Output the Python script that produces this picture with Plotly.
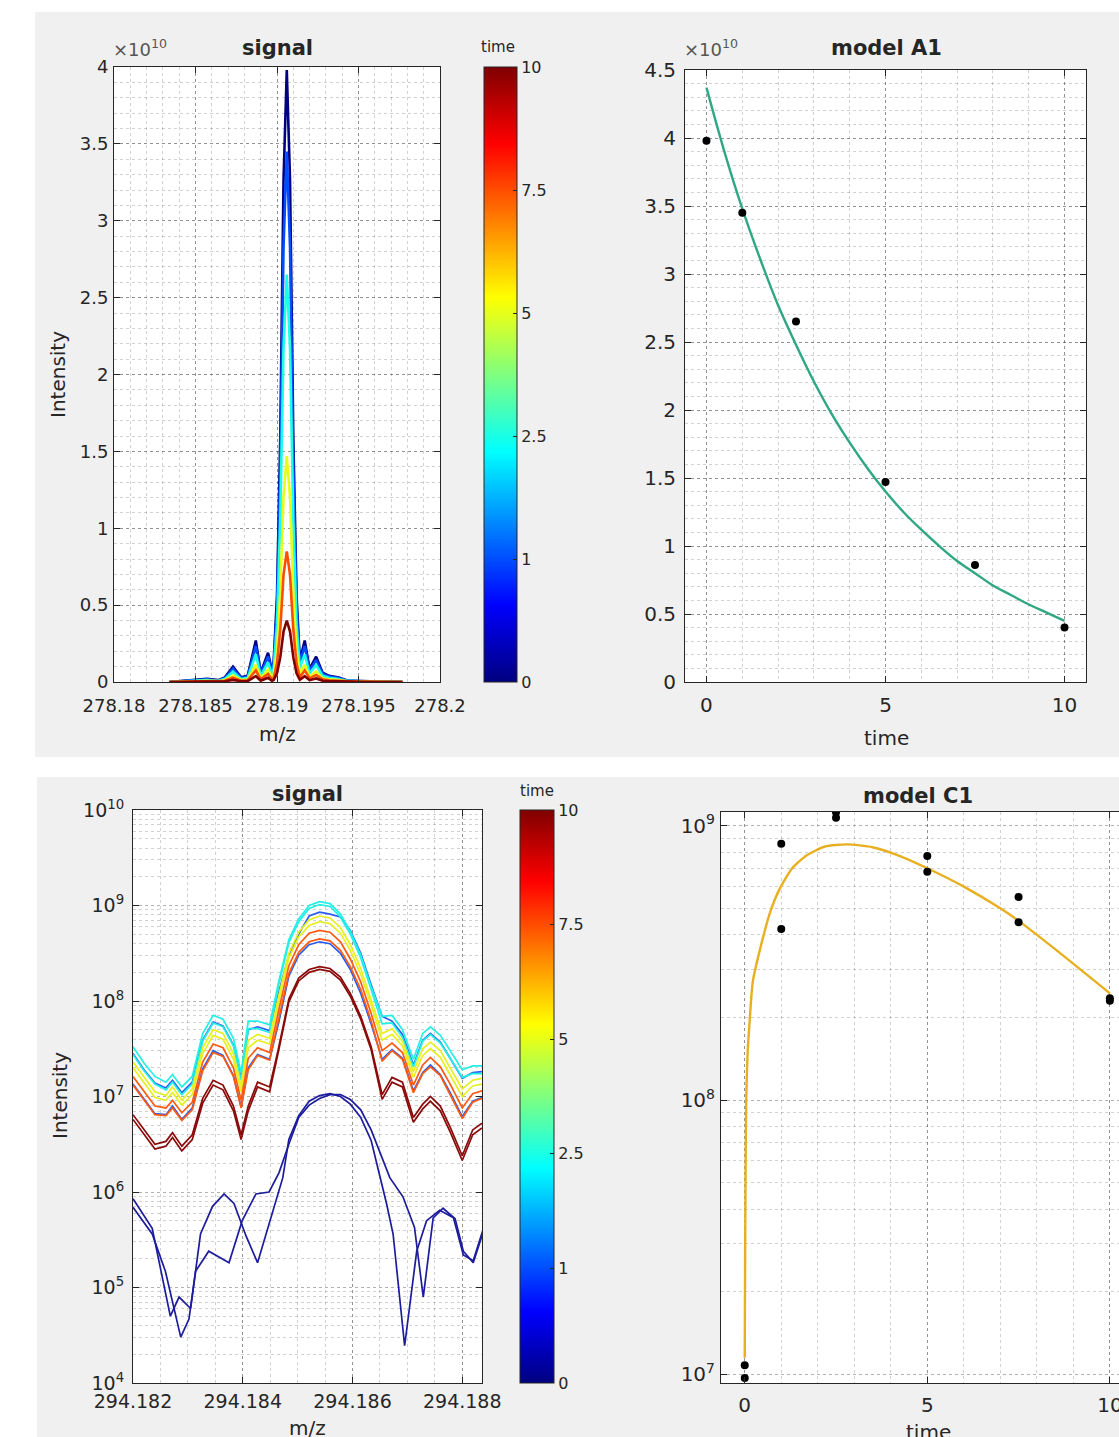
import plotly.graph_objects as go

W, H = 1119, 1437
FONT = "DejaVu Sans"
TXT = "#262626"
GRID = "rgba(0,0,0,0.30)"
GRID2 = "rgba(0,0,0,0.18)"


def fx(px):
    return px / W


def fy(py):
    return 1 - py / H


# ---------------------------------------------------------------- data
time_ticks = [0, 1, 2, 3, 4, 5]                     # colour index of each time point
time_labels = ["0", "1", "2.5", "5", "7.5", "10"]

# --- top-left: signal at m/z 278.19 (intensity in units of 1e10)
mz_top = [278.1834, 278.1848, 278.1857, 278.1864, 278.1868, 278.1873, 278.1878, 278.1882,
          278.1887, 278.1890, 278.18945, 278.1897, 278.1898, 278.1900, 278.1902, 278.1904,
          278.1906, 278.1908, 278.1910, 278.1912, 278.1914, 278.1917, 278.1920, 278.1924,
          278.1928, 278.1932, 278.1938, 278.1943, 278.1951, 278.1962, 278.1977]
sig_top_t0 = [0.000, 0.010, 0.020, 0.012, 0.030, 0.100, 0.030, 0.040, 0.270, 0.060, 0.190, 0.070,
              0.140, 0.560, 1.590, 3.260, 3.980, 3.260, 1.590, 0.560, 0.140, 0.270, 0.085, 0.165,
              0.060, 0.040, 0.030, 0.010, 0.005, 0.003, 0.000]
sig_top_t1 = [0.000, 0.009, 0.017, 0.010, 0.026, 0.087, 0.026, 0.035, 0.234, 0.052, 0.165, 0.061,
              0.121, 0.486, 1.379, 2.826, 3.450, 2.826, 1.379, 0.486, 0.121, 0.234, 0.074, 0.143,
              0.052, 0.035, 0.026, 0.009, 0.004, 0.003, 0.000]
sig_top_t2_5 = [0.000, 0.007, 0.013, 0.008, 0.020, 0.067, 0.020, 0.027, 0.180, 0.040, 0.127, 0.047,
                0.093, 0.373, 1.059, 2.171, 2.650, 2.171, 1.059, 0.373, 0.093, 0.180, 0.057, 0.110,
                0.040, 0.027, 0.020, 0.007, 0.003, 0.002, 0.000]
sig_top_t5 = [0.000, 0.004, 0.008, 0.005, 0.013, 0.042, 0.013, 0.017, 0.113, 0.025, 0.080, 0.026,
              0.052, 0.207, 0.587, 1.203, 1.470, 1.203, 0.587, 0.207, 0.052, 0.113, 0.036, 0.069,
              0.025, 0.017, 0.013, 0.004, 0.002, 0.001, 0.000]
sig_top_t7_5 = [0.000, 0.003, 0.006, 0.003, 0.008, 0.028, 0.008, 0.011, 0.076, 0.017, 0.053, 0.015,
                0.030, 0.120, 0.340, 0.697, 0.850, 0.697, 0.340, 0.120, 0.030, 0.076, 0.024, 0.046,
                0.017, 0.011, 0.008, 0.003, 0.001, 0.001, 0.000]
sig_top_t10 = [0.000, 0.001, 0.003, 0.002, 0.004, 0.014, 0.004, 0.006, 0.038, 0.008, 0.027, 0.007,
               0.014, 0.056, 0.160, 0.328, 0.400, 0.328, 0.160, 0.056, 0.014, 0.038, 0.012, 0.023,
               0.008, 0.006, 0.004, 0.001, 0.001, 0.000, 0.000]

# --- top-right: model A1 (units of 1e10)
a1_time = [0, 1, 2.5, 5, 7.5, 10]
a1_vals = [3.98, 3.45, 2.65, 1.47, 0.86, 0.40]
a1_fit_t = [0, 0.5, 1, 1.5, 2, 2.5, 3, 3.5, 4, 4.5, 5, 5.5, 6, 6.5, 7, 7.5, 8, 8.5, 9, 9.5, 10]
a1_fit_v = [4.37, 3.90, 3.48, 3.11, 2.77, 2.48, 2.21, 1.97, 1.76, 1.57, 1.40, 1.25, 1.12, 1.00,
            0.89, 0.80, 0.71, 0.64, 0.57, 0.51, 0.45]

# --- bottom-left: signal at m/z 294.185 (log10 of intensity)
mz_bot = [294.18200, 294.18220, 294.18240, 294.18260, 294.18272, 294.18289, 294.18308, 294.18327,
          294.18346, 294.18364, 294.18383, 294.18397, 294.18410, 294.18427, 294.18449, 294.18465,
          294.18484, 294.18502, 294.18521, 294.18540, 294.18559, 294.18578, 294.18596, 294.18615,
          294.18634, 294.18654, 294.18672, 294.18691, 294.18711, 294.18728, 294.18742, 294.18760,
          294.18778, 294.18800, 294.18819, 294.18836]
mz_bot_t0a = [294.18200, 294.18235, 294.18268, 294.18284, 294.18305, 294.18323, 294.18345, 294.18366,
              294.18384, 294.18406, 294.18427, 294.18454, 294.18473, 294.18484, 294.18502, 294.18521,
              294.18540, 294.18559, 294.18578, 294.18596, 294.18615, 294.18634, 294.18662, 294.18674,
              294.18695, 294.18717, 294.18735, 294.18759, 294.18784, 294.18802, 294.18820, 294.18837]
log_bot_t0a = [5.93, 5.62, 4.70, 4.90, 4.78, 5.56, 5.85, 5.98, 5.88, 5.54, 5.26, 5.78, 6.15, 6.55,
               6.80, 6.95, 7.01, 7.03, 7.00, 6.92, 6.78, 6.54, 5.88, 5.56, 4.39, 5.38, 5.70, 5.81,
               5.73, 5.34, 5.28, 5.59]
mz_bot_t0b = [294.18200, 294.18235, 294.18259, 294.18287, 294.18302, 294.18314, 294.18338, 294.18375,
              294.18399, 294.18424, 294.18448, 294.18466, 294.18484, 294.18502, 294.18521, 294.18540,
              294.18559, 294.18578, 294.18596, 294.18615, 294.18634, 294.18668, 294.18692, 294.18713,
              294.18729, 294.18747, 294.18765, 294.18787, 294.18802, 294.18820, 294.18837]
log_bot_t0b = [5.84, 5.56, 5.17, 4.48, 4.67, 5.17, 5.38, 5.26, 5.70, 5.98, 6.00, 6.20, 6.50, 6.78,
               6.91, 6.98, 7.02, 7.02, 6.97, 6.86, 6.65, 6.15, 5.95, 5.63, 4.90, 5.73, 5.83, 5.72,
               5.38, 5.26, 5.56]
log_bot_t1a = [7.45, 7.28, 7.14, 7.09, 7.17, 7.04, 7.15, 7.59, 7.78, 7.74, 7.54, 7.19, 7.70, 7.73,
               7.69, 8.08, 8.48, 8.70, 8.89, 8.93, 8.91, 8.88, 8.74, 8.50, 8.17, 7.84, 7.79, 7.65,
               7.33, 7.59, 7.66, 7.57, 7.40, 7.19, 7.25, 7.26]
log_bot_t1b = [7.13, 6.97, 6.82, 6.81, 6.90, 6.76, 6.88, 7.29, 7.48, 7.43, 7.22, 6.89, 7.30, 7.44,
               7.39, 7.76, 8.26, 8.48, 8.59, 8.62, 8.60, 8.50, 8.33, 8.08, 7.76, 7.39, 7.49, 7.40,
               7.06, 7.25, 7.33, 7.23, 7.04, 6.79, 6.95, 6.99]
log_bot_t2_5a = [7.52, 7.35, 7.21, 7.15, 7.23, 7.10, 7.21, 7.66, 7.85, 7.81, 7.61, 7.25, 7.79, 7.79,
                 7.75, 8.19, 8.64, 8.86, 9.00, 9.04, 9.02, 8.91, 8.73, 8.48, 8.15, 7.84, 7.85, 7.70,
                 7.39, 7.66, 7.73, 7.64, 7.48, 7.28, 7.32, 7.32]
log_bot_t2_5b = [7.44, 7.27, 7.13, 7.07, 7.15, 7.02, 7.13, 7.58, 7.77, 7.73, 7.53, 7.17, 7.71, 7.71,
                 7.67, 8.16, 8.61, 8.83, 8.97, 9.01, 8.99, 8.88, 8.70, 8.45, 8.12, 7.76, 7.77, 7.62,
                 7.31, 7.58, 7.65, 7.56, 7.40, 7.20, 7.24, 7.24]
log_bot_t5a = [7.36, 7.20, 7.05, 7.01, 7.10, 6.96, 7.08, 7.51, 7.70, 7.66, 7.45, 7.11, 7.59, 7.65,
               7.61, 8.04, 8.50, 8.72, 8.85, 8.89, 8.87, 8.77, 8.59, 8.34, 8.01, 7.66, 7.71, 7.58,
               7.26, 7.50, 7.57, 7.48, 7.30, 7.08, 7.17, 7.19]
log_bot_t5b = [7.30, 7.14, 6.99, 6.96, 7.04, 6.91, 7.02, 7.45, 7.64, 7.60, 7.39, 7.05, 7.51, 7.59,
               7.55, 7.98, 8.45, 8.67, 8.79, 8.83, 8.81, 8.71, 8.53, 8.28, 7.96, 7.59, 7.65, 7.53,
               7.20, 7.43, 7.50, 7.41, 7.23, 7.00, 7.11, 7.13]
log_bot_t7_5a = [7.21, 7.05, 6.90, 6.88, 6.96, 6.83, 6.94, 7.36, 7.55, 7.51, 7.30, 6.96, 7.40, 7.51,
                 7.46, 7.89, 8.37, 8.59, 8.71, 8.74, 8.72, 8.62, 8.44, 8.20, 7.87, 7.48, 7.56, 7.46,
                 7.12, 7.33, 7.41, 7.31, 7.13, 6.88, 7.03, 7.06]
log_bot_t7_5b = [7.12, 6.96, 6.81, 6.80, 6.88, 6.75, 6.86, 7.27, 7.46, 7.42, 7.21, 6.88, 7.28, 7.43,
                 7.38, 7.80, 8.29, 8.51, 8.62, 8.65, 8.63, 8.53, 8.36, 8.12, 7.79, 7.37, 7.48, 7.39,
                 7.04, 7.24, 7.31, 7.22, 7.02, 6.77, 6.94, 6.98]
log_bot_t10a = [6.81, 6.66, 6.50, 6.53, 6.62, 6.48, 6.60, 6.98, 7.17, 7.12, 6.90, 6.60, 6.90, 7.15,
                7.10, 7.50, 8.02, 8.24, 8.33, 8.36, 8.34, 8.25, 8.08, 7.84, 7.52, 7.02, 7.20, 7.15,
                6.78, 6.92, 7.00, 6.90, 6.68, 6.38, 6.65, 6.72]
log_bot_t10b = [6.76, 6.61, 6.45, 6.48, 6.57, 6.43, 6.55, 6.93, 7.12, 7.07, 6.85, 6.55, 6.85, 7.10,
                7.05, 7.47, 7.99, 8.21, 8.30, 8.33, 8.31, 8.22, 8.05, 7.81, 7.49, 6.97, 7.15, 7.10,
                6.73, 6.87, 6.95, 6.85, 6.63, 6.33, 6.60, 6.67]

# --- bottom-right: model C1
c1_time = [0, 0, 1, 1, 2.5, 2.5, 5, 5, 7.5, 7.5, 10, 10]
c1_vals = [1.08e7, 0.97e7, 8.6e8, 4.2e8, 1.12e9, 1.07e9, 7.75e8, 6.8e8, 5.5e8, 4.45e8, 2.35e8, 2.3e8]
c1_fit_t = [0, 0.01, 0.02, 0.04, 0.08, 0.13, 0.22, 0.42, 0.71, 0.96, 1.3, 1.7, 2.2, 2.8, 3.5,
            4.2, 5.0, 6.0, 7.0, 7.5, 8.5, 10]
c1_fit_v = [1.15e7, 2.5e7, 4.5e7, 1.0e8, 1.5e8, 1.9e8, 2.7e8, 3.55e8, 4.9e8, 5.9e8, 7.0e8, 7.8e8,
            8.4e8, 8.55e8, 8.35e8, 7.8e8, 7.0e8, 6.0e8, 5.0e8, 4.5e8, 3.55e8, 2.45e8]

# ---------------------------------------------------------------- styles
jet_scale = [[0.0, "#000080"], [0.125, "#0000ff"], [0.375, "#00ffff"],
             [0.625, "#ffff00"], [0.875, "#ff0000"], [1.0, "#800000"]]
line_colors = ["#000080", "#004dff", "#1affe6", "#e6ff1a", "#ff4d00", "#800000"]
line_colors_bot = ["#1c1c9c", "#2a5cf0", "#22f0e6", "#e6f020", "#ff5a10", "#8a0a0a"]

fig = go.Figure()

# top-left signal
for vals, col in zip([sig_top_t0, sig_top_t1, sig_top_t2_5, sig_top_t5, sig_top_t7_5, sig_top_t10],
                     line_colors):
    fig.add_trace(go.Scatter(x=mz_top, y=vals, mode="lines", xaxis="x", yaxis="y",
                             line=dict(color=col, width=2.6), showlegend=False))

# bottom-left signal
bot_series = [
    (mz_bot_t0a, log_bot_t0a, 0), (mz_bot_t0b, log_bot_t0b, 0),
    (mz_bot, log_bot_t1a, 1), (mz_bot, log_bot_t1b, 1),
    (mz_bot, log_bot_t2_5a, 2), (mz_bot, log_bot_t2_5b, 2),
    (mz_bot, log_bot_t5a, 3), (mz_bot, log_bot_t5b, 3),
    (mz_bot, log_bot_t7_5a, 4), (mz_bot, log_bot_t7_5b, 4),
    (mz_bot, log_bot_t10a, 5), (mz_bot, log_bot_t10b, 5),
]
for mzs, logs, ci in bot_series:
    fig.add_trace(go.Scatter(x=mzs, y=[10 ** v for v in logs], mode="lines", xaxis="x3", yaxis="y3",
                             line=dict(color=line_colors_bot[ci], width=1.7), showlegend=False))

# model A1
fig.add_trace(go.Scatter(x=a1_fit_t, y=a1_fit_v, mode="lines", xaxis="x2", yaxis="y2",
                         line=dict(color="#2fa783", width=2.4, shape="spline"), showlegend=False))
fig.add_trace(go.Scatter(x=a1_time, y=a1_vals, mode="markers", xaxis="x2", yaxis="y2",
                         marker=dict(color="black", size=8), showlegend=False))

# model C1
fig.add_trace(go.Scatter(x=c1_fit_t, y=c1_fit_v, mode="lines", xaxis="x4", yaxis="y4",
                         line=dict(color="#e8b020", width=2.4, shape="spline", smoothing=0.6),
                         showlegend=False))
fig.add_trace(go.Scatter(x=c1_time, y=c1_vals, mode="markers", xaxis="x4", yaxis="y4",
                         marker=dict(color="black", size=8), showlegend=False))


# colour bars (hidden helper markers outside the visible ranges)
def cbar(x0, y0, y1, thick):
    return dict(x=fx(x0), xanchor="left", y=fy((y0 + y1) / 2), yanchor="middle",
                len=y1 - y0, lenmode="pixels", thickness=thick, thicknessmode="pixels",
                xpad=0, ypad=0, outlinewidth=1, outlinecolor=TXT,
                tickmode="array", tickvals=time_ticks, ticktext=time_labels,
                ticks="inside", ticklen=4, tickcolor=TXT,
                tickfont=dict(family=FONT, size=16, color=TXT))


fig.add_trace(go.Scatter(x=[278.0, 278.0], y=[-5, -5], mode="markers", xaxis="x", yaxis="y",
                         marker=dict(color=[0, 5], colorscale=jet_scale, cmin=0, cmax=5, size=2,
                                     opacity=0, showscale=True, colorbar=cbar(484, 67, 682, 33)),
                         showlegend=False, hoverinfo="skip"))
fig.add_trace(go.Scatter(x=[294.17, 294.17], y=[10, 10], mode="markers", xaxis="x3", yaxis="y3",
                         marker=dict(color=[0, 5], colorscale=jet_scale, cmin=0, cmax=5, size=2,
                                     opacity=0, showscale=True, colorbar=cbar(520, 810, 1383, 34)),
                         showlegend=False, hoverinfo="skip"))


# ---------------------------------------------------------------- axes
def base_axis(domain, size, anchor, mirror="ticks", standoff=3):
    return dict(domain=domain, anchor=anchor, ticks="inside", ticklen=6, tickwidth=1, tickcolor=TXT,
                showline=True, linecolor=TXT, linewidth=1, mirror=mirror,
                showgrid=True, gridcolor=GRID, griddash="dot", gridwidth=1, zeroline=False,
                tickfont=dict(family=FONT, size=size, color=TXT), fixedrange=True,
                automargin=False, ticklabelstandoff=standoff, ticklabeloverflow="allow")


def minor_lin(tick0, dtick):
    return dict(tickmode="linear", tick0=tick0, dtick=dtick, showgrid=True, gridcolor=GRID2,
                griddash="dot", gridwidth=1, ticks="")


def minor_log(lo, hi):
    vals = [k * 10 ** e for e in range(lo, hi) for k in range(2, 10)]
    return dict(tickmode="array", tickvals=vals, showgrid=True, gridcolor=GRID2,
                griddash="dot", gridwidth=1, ticks="")


xa1 = base_axis([fx(114), fx(440)], 18, "y", standoff=7)
xa1.update(range=[278.18, 278.2], tickmode="array",
           tickvals=[278.18, 278.185, 278.19, 278.195, 278.2],
           ticktext=["278.18", "278.185", "278.19", "278.195", "278.2"],
           minor=minor_lin(278.18, 0.001))
ya1 = base_axis([fy(682), fy(67)], 18, "x", standoff=1)
ya1.update(range=[0, 4], tickmode="array", tickvals=[0, 0.5, 1, 1.5, 2, 2.5, 3, 3.5, 4],
           ticktext=["0", "0.5", "1", "1.5", "2", "2.5", "3", "3.5", "4"],
           minor=minor_lin(0, 0.1))

xa2 = base_axis([fx(685), fx(1086)], 20, "y2", standoff=5)
xa2.update(range=[-0.6, 10.6], tickmode="array", tickvals=[0, 5, 10], ticktext=["0", "5", "10"],
           minor=minor_lin(0, 1))
ya2 = base_axis([fy(682), fy(70)], 20, "x2", standoff=4)
ya2.update(range=[0, 4.5], tickmode="array",
           tickvals=[0, 0.5, 1, 1.5, 2, 2.5, 3, 3.5, 4, 4.5],
           ticktext=["0", "0.5", "1", "1.5", "2", "2.5", "3", "3.5", "4", "4.5"],
           minor=minor_lin(0, 0.1))

xa3 = base_axis([fx(133), fx(482)], 19, "y3", standoff=1)
xa3.update(range=[294.182, 294.18836], tickmode="array",
           tickvals=[294.182, 294.184, 294.186, 294.188],
           ticktext=["294.182", "294.184", "294.186", "294.188"],
           minor=minor_lin(294.182, 0.0005))
ya3 = base_axis([fy(1383), fy(810)], 19, "x3", standoff=4)
ya3.update(type="log", range=[4, 10], tickmode="array",
           tickvals=[10 ** e for e in range(4, 11)],
           ticktext=["10<sup>%d</sup>" % e for e in range(4, 11)],
           minor=minor_log(4, 10))

xa4 = base_axis([fx(721), 1.0], 20, "y4", standoff=4)
xa4.update(range=[-0.65, 10.25], tickmode="array", tickvals=[0, 5, 10], ticktext=["0", "5", "10"],
           minor=minor_lin(0, 1))
ya4 = base_axis([fy(1383), fy(812)], 20, "x4", mirror=False, standoff=1)
ya4.update(type="log", range=[6.969, 9.05], tickmode="array",
           tickvals=[1e7, 1e8, 1e9],
           ticktext=["10<sup>7</sup>", "10<sup>8</sup>", "10<sup>9</sup>"],
           minor=minor_log(6, 10))

# ---------------------------------------------------------------- panels / text
shapes = [
    dict(type="rect", xref="paper", yref="paper", x0=fx(35), x1=1.0, y0=fy(757), y1=fy(12),
         fillcolor="#f0f0f0", line=dict(width=0), layer="below"),
    dict(type="rect", xref="paper", yref="paper", x0=fx(37), x1=1.0, y0=0, y1=fy(777),
         fillcolor="#f0f0f0", line=dict(width=0), layer="below"),
]
for (xa, xb, ya, yb) in [(114, 440, 67, 682), (685, 1086, 70, 682), (133, 482, 810, 1383),
                         (721, 1119, 812, 1383)]:
    shapes.append(dict(type="rect", xref="paper", yref="paper", x0=fx(xa), x1=fx(xb),
                       y0=fy(yb), y1=fy(ya), fillcolor="white", line=dict(width=0), layer="below"))


def ann(text, x, y, size, bold=False, angle=0, xanchor="center", color=TXT):
    t = "<b>%s</b>" % text if bold else text
    return dict(text=t, x=fx(x), y=fy(y), xref="paper", yref="paper", showarrow=False,
                xanchor=xanchor, yanchor="middle", textangle=angle,
                font=dict(family=FONT, size=size, color=color))


annotations = [
    ann("signal", 277, 48, 21, bold=True),
    ann("model A1", 886, 48, 21, bold=True),
    ann("signal", 307, 794, 21, bold=True),
    ann("model C1", 918, 796, 21, bold=True),
    ann("m/z", 277, 734, 20),
    ann("time", 886, 738, 20),
    ann("m/z", 307, 1428, 20),
    ann("time", 928, 1432, 20),
    ann("Intensity", 58, 375, 20, angle=-90),
    ann("Intensity", 60, 1096, 20, angle=-90),
    ann("\u00d710<sup>10</sup>", 111, 48, 18, xanchor="left", color="#555555"),
    ann("\u00d710<sup>10</sup>", 682, 48, 18, xanchor="left", color="#555555"),
    ann("time", 498, 47, 15),
    ann("time", 537, 791, 15),
]

fig.update_layout(
    width=W, height=H, margin=dict(l=0, r=0, t=0, b=0, pad=0, autoexpand=False),
    paper_bgcolor="white", plot_bgcolor="white",
    showlegend=False, hovermode=False,
    font=dict(family=FONT, color=TXT),
    xaxis=xa1, yaxis=ya1, xaxis2=xa2, yaxis2=ya2, xaxis3=xa3, yaxis3=ya3, xaxis4=xa4, yaxis4=ya4,
    shapes=shapes, annotations=annotations,
)

fig.write_html("out.html", config={"displayModeBar": False},
               post_script="document.body.style.margin='0px';document.body.style.overflow='hidden';")
